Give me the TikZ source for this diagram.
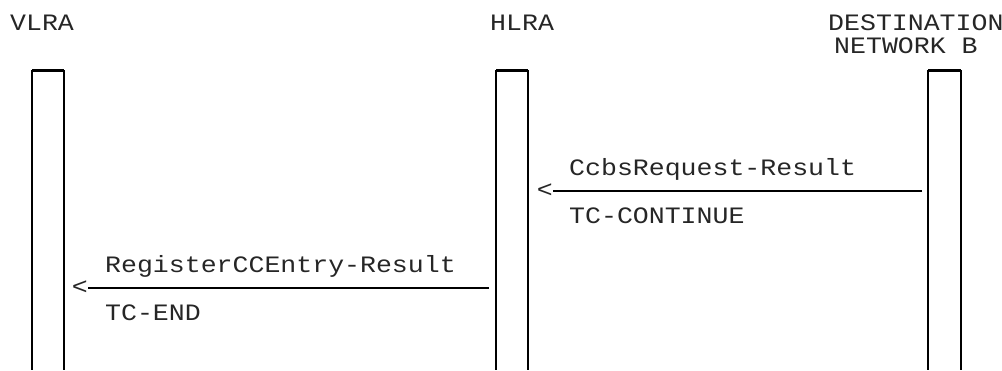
\documentclass[tikz,border=0pt]{standalone}
\usepackage{fontspec}
\setmonofont{Liberation Mono}[FakeStretch=1.13]
\usetikzlibrary{positioning}
\tikzset{every node/.style={font=\ttfamily\fontsize{23.5}{23}\selectfont,inner sep=0pt,text=black!85}}
\tikzset{life/.style={line width=1.1pt},lifetop/.style={line width=3pt},msgline/.style={line width=2.8pt}}

\begin{document}
\begin{tikzpicture}[x=1pt,y=-1pt]
                \useasboundingbox (0,0) rectangle (1002,370);
                % entities
                \node[anchor=base west] (vlra)  at (10,30)   {VLRA};
                \node[anchor=base west] (hlra)  at (490,30)  {HLRA};
                \node[anchor=base west] (dest)  at (828,30)  {DESTINATION};
                \node[anchor=base west] (destb) at (834,53)  {NETWORK B};
                % lifelines
                \coordinate (vl) at (48,70);
                \coordinate (hl) at (512,70);
                \coordinate (dn) at (944.5,70);
                \draw[lifetop] ([xshift=-16pt]vl) -- ([xshift=16pt]vl);
                \draw[life] ([xshift=-16pt]vl) -- ++(0,300) ([xshift=16pt]vl) -- ++(0,300);
                \draw[lifetop] ([xshift=-16pt]hl) -- ([xshift=16pt]hl);
                \draw[life] ([xshift=-16pt]hl) -- ++(0,300) ([xshift=16pt]hl) -- ++(0,300);
                \draw[lifetop] ([xshift=-16.5pt]dn) -- ([xshift=16.5pt]dn);
                \draw[life] ([xshift=-16.5pt]dn) -- ++(0,300) ([xshift=16.5pt]dn) -- ++(0,300);
                % CcbsRequest-Result
                \coordinate (m1s) at (922,191);
                \node[anchor=east] (m1a) at (553,191) {<};
                \draw[msgline] (m1s) -- (m1a);
                \node[anchor=base west] (m1t) at (569,175) {CcbsRequest-Result};
                \node[anchor=base west] (m1b) at (569,223) {TC-CONTINUE};
                % RegisterCCEntry-Result
                \coordinate (m2s) at (489,288);
                \node[anchor=east] (m2a) at (88,288) {<};
                \draw[msgline] (m2s) -- (m2a);
                \node[anchor=base west] (m2t) at (105,272) {RegisterCCEntry-Result};
                \node[anchor=base west] (m2b) at (105,320) {TC-END};
\end{tikzpicture}
\end{document}
